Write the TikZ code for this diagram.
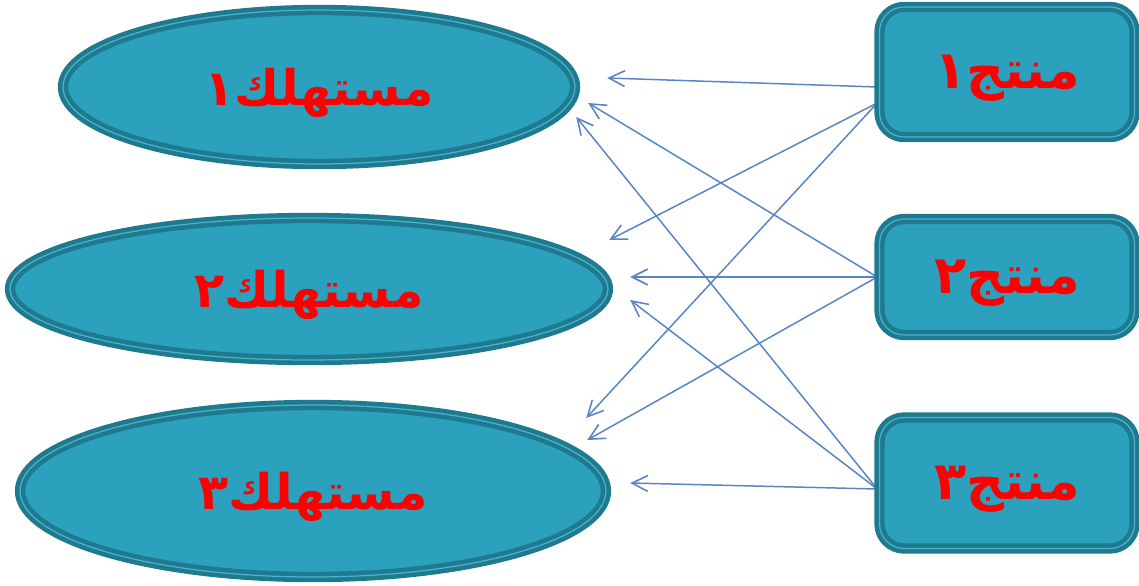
\documentclass[tikz,border=0pt]{standalone}
\usepackage{fontspec}
\usepackage{tikz}
\usetikzlibrary{shapes.geometric}
\usetikzlibrary{arrows.meta}
\usetikzlibrary{backgrounds}
\newfontfamily\arabicfont[Script=Arabic]{DejaVu Sans}
\TeXXeTstate=1
\definecolor{shapefill}{RGB}{44,161,190}
\definecolor{shapedark}{RGB}{30,122,143}
\definecolor{shapelight}{RGB}{78,178,204}
\definecolor{linkblue}{RGB}{88,133,198}
\tikzset{>={Straight Barb[length=9pt,width=9pt,line width=0.9pt]}}
\tikzset{consumer/.style = {shape=ellipse,fill=shapefill,draw=shapedark,
    double=shapelight,line width=2.6pt,double distance=0.7pt,
    inner sep=0pt,text depth=0pt,text=red,font=\arabicfont\bfseries\fontsize{28}{34}\selectfont}}
\tikzset{product/.style = {shape=rectangle,rounded corners=14pt,fill=shapefill,draw=shapedark,
    double=shapelight,line width=2.6pt,double distance=0.7pt,
    inner sep=0pt,text depth=0pt,text=red,font=\arabicfont\bfseries\fontsize{30}{36}\selectfont}}
\tikzset{link/.style = {->,draw=linkblue,line width=0.85pt}}
\begin{document}
\begin{tikzpicture}[x=0.02cm,y=-0.02cm]
                    \useasboundingbox (0,0) rectangle (1139,585);
                    \node[consumer,minimum width=10.24cm,minimum height=3.08cm] (c1) at (319,87) {\beginR مستهلك١\endR};
                    \node[consumer,minimum width=11.96cm,minimum height=2.84cm] (c2) at (309,289) {\beginR مستهلك٢\endR};
                    \node[consumer,minimum width=11.72cm,minimum height=3.44cm] (c3) at (313,491) {\beginR مستهلك٣\endR};

                    \node[product,minimum width=5.1cm,minimum height=2.6cm] (p1) at (1007,72) {\beginR منتج١\endR};
                    \node[product,minimum width=5.1cm,minimum height=2.32cm] (p2) at (1007,277) {\beginR منتج٢\endR};
                    \node[product,minimum width=5.1cm,minimum height=2.62cm] (p3) at (1007,483) {\beginR منتج٣\endR};

                    \begin{scope}[on background layer]
                    \draw[link] ([shift={(0,15)}]p1.west) -- ([shift={(30,-9)}]c1.east);
                    \draw[link] ([shift={(0,31)}]p1.west) -- ([shift={(-1,-49)}]c2.east);
                    \draw[link] ([shift={(0,31)}]p1.west) -- ([shift={(-22,-73)}]c3.east);
                    \draw[link] (p2.west) -- ([shift={(11,16)}]c1.east);
                    \draw[link] (p2.west) -- ([shift={(20,-12)}]c2.east);
                    \draw[link] (p2.west) -- ([shift={(-21,-51)}]c3.east);
                    \draw[link] ([shift={(0,6)}]p3.west) -- ([shift={(-1,30)}]c1.east);
                    \draw[link] ([shift={(0,6)}]p3.west) -- ([shift={(20,11)}]c2.east);
                    \draw[link] ([shift={(0,6)}]p3.west) -- ([shift={(22,-8)}]c3.east);
                    \end{scope}
                \end{tikzpicture}
\end{document}
